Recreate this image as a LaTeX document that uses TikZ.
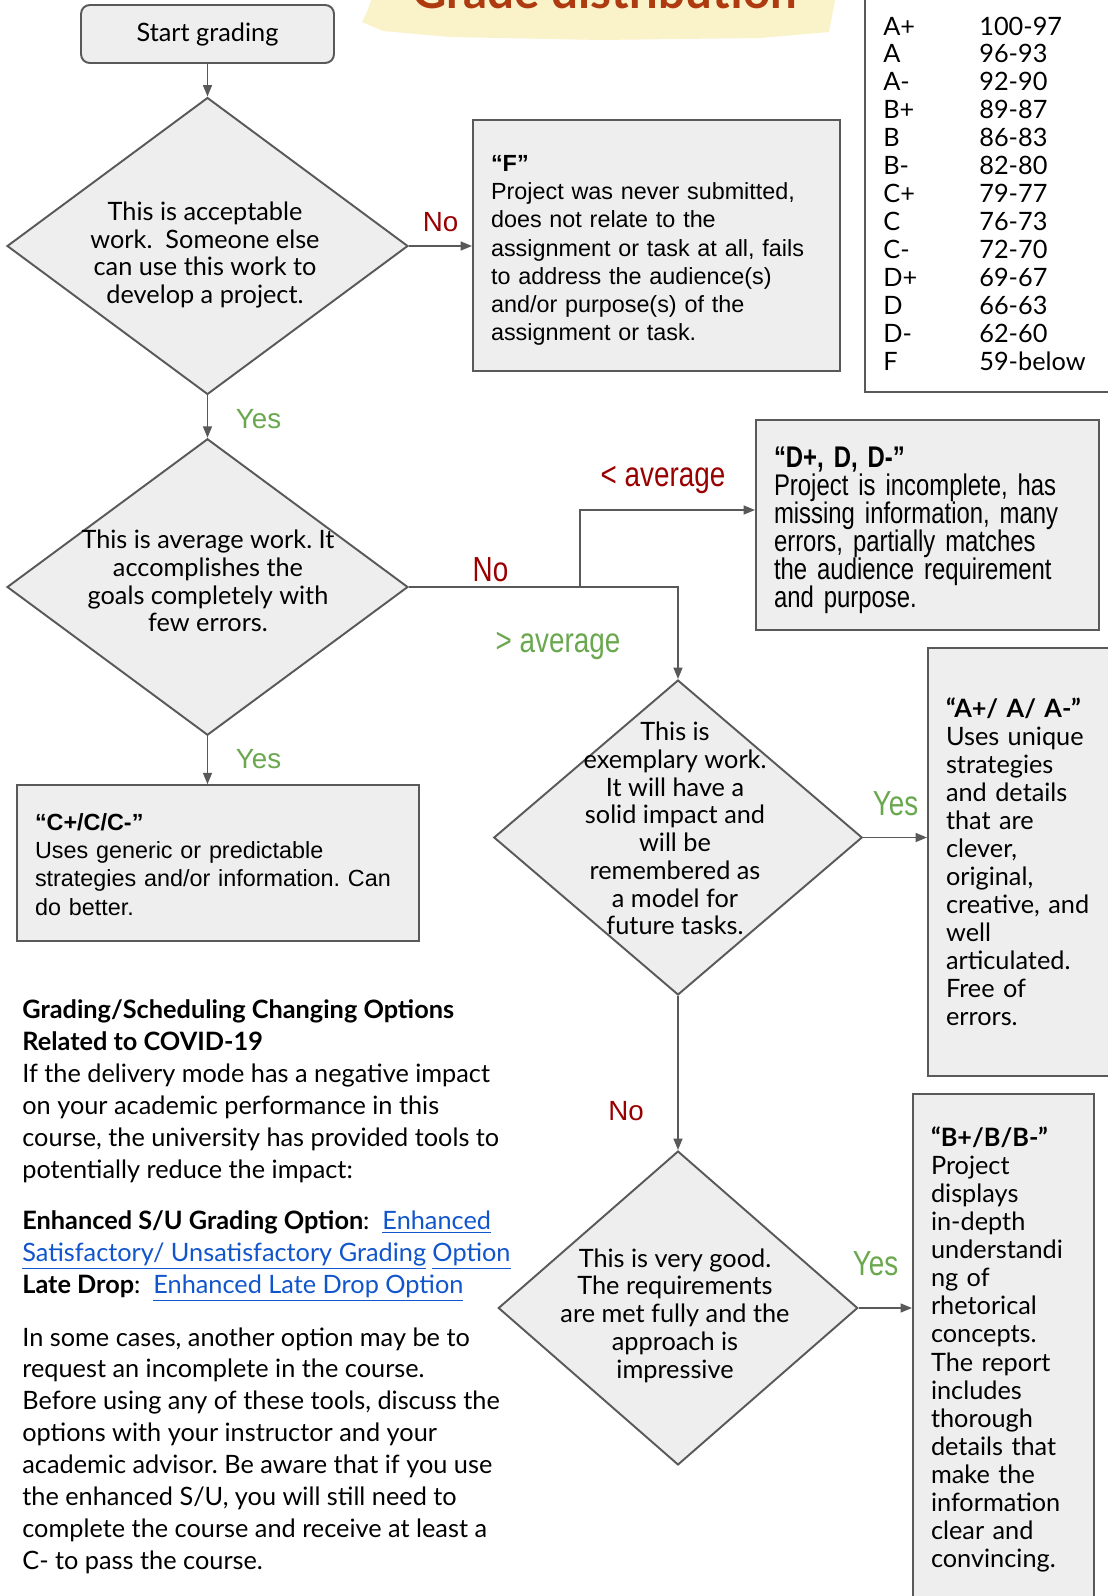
\documentclass[tikz,border=0pt]{standalone}
\usepackage{fontspec}
\setmainfont{Lato}
\newfontfamily\arialfont{Liberation Sans}
\newfontfamily\condfont[FakeStretch=0.8]{Liberation Sans}
\usetikzlibrary{shapes.geometric,arrows.meta}

\definecolor{boxfill}{HTML}{EEEEEE}
\definecolor{boxline}{HTML}{595959}
\definecolor{noRed}{HTML}{990000}
\definecolor{yesGreen}{HTML}{6AA84F}
\definecolor{linkBlue}{HTML}{1155CC}
\definecolor{titleBrown}{HTML}{AE3A10}
\definecolor{brush}{HTML}{FAF2C9}

\newcommand{\linkul}[1]{{\color{linkBlue}\underline{#1}}}
\newcommand{\headgap}[1]{\rule{0pt}{#1}}

\tikzset{
  boxed/.style={draw=boxline, fill=boxfill, line width=1.1pt},
  decision/.style={boxed, diamond, inner sep=0pt},
  startbox/.style={boxed, rectangle, rounded corners=5pt, minimum width=5.06cm, minimum height=1.16cm},
  outcome/.style={boxed, rectangle, align=left, inner xsep=0.36cm, inner ysep=0pt},
  dtext/.style={align=center, inner sep=0pt, font=\fontsize{14.4}{15.8}\selectfont},
  para/.style={align=left, inner sep=0pt, anchor=north west, font=\fontsize{14.4}{18.2}\selectfont},
  grade/.style={inner sep=0pt, anchor=base west, font=\fontsize{14.4}{15.8}\selectfont},
  flow/.style={draw=boxline, line width=1.1pt, -{Triangle[length=6.5pt,width=5pt]}},
  nolab/.style={text=noRed, font=\arialfont\fontsize{15.8}{16}\selectfont},
  yeslab/.style={text=yesGreen, font=\arialfont\fontsize{15.8}{16}\selectfont},
  condlab/.style={font=\condfont\fontsize{19.8}{20}\selectfont},
}

\begin{document}
\frenchspacing
\begin{tikzpicture}[x=0.02cm,y=-0.02cm]
\useasboundingbox (0,0) rectangle (1108,1596);

% title strip
\fill[brush] (373,-5) -- (836,-5) -- (829,32) -- (760,38) -- (600,40) -- (450,37) -- (383,31) -- (362,22) -- (367,12) -- cycle;
\node[anchor=base, text=titleBrown, inner sep=0pt] (title) at (604.5,8) {\resizebox{7.7cm}{!}{\bfseries Grade distribution}};

% grade table
\draw[boxline, line width=1.1pt] (865,-10) rectangle (1130,392);
\foreach \g/\r [count=\i from 0] in {A+/100-97, A/96-93, A-/92-90, B+/89-87, B/86-83, B-/82-80, C+/79-77, C/76-73, C-/72-70, D+/69-67, D/66-63, D-/62-60, F/59-below}{
  \node[grade] (g\i) at (883,{35+27.96*\i}) {\g};
  \node[grade] (r\i) at (979,{35+27.96*\i}) {\r};
}

\node[startbox, font=\fontsize{14.4}{15.8}\selectfont] (start) at (207.5,34) {Start grading};

\node[decision, minimum width=8.02cm, minimum height=5.94cm] (d1) at (207.5,246) {};
\node[dtext] (t1) at (205,255) {This is acceptable\\ work.\ \ Someone else\\ can use this work to\\ develop a project.};

\node[decision, minimum width=8.02cm, minimum height=5.93cm] (d2) at (207.5,587) {};
\node[dtext] (t2) at (208,581) {This is average work. It\\ accomplishes the\\ goals completely with\\ few errors.};

\node[decision, minimum width=7.37cm, minimum height=6.3cm] (d3) at (678,837.5) {};
\node[dtext] (t3) at (675,828.5) {This is\\ exemplary work.\\ It will have a\\ solid impact and\\ will be\\ remembered as\\ a model for\\ future tasks.};

\node[decision, minimum width=7.19cm, minimum height=6.28cm] (d4) at (678,1308) {};
\node[dtext] (t4) at (675,1315.5) {This is very good.\\ The requirements\\ are met fully and the\\ approach is\\ impressive};

\node[outcome, minimum width=7.34cm, minimum height=5.02cm, text width=6.62cm,
  font=\arialfont\fontsize{13.3}{16.05}\selectfont] (fbox) at (656.5,245.5)
  {\headgap{14.8pt}\textbf{“F”}\\ Project was never submitted,\\ does not relate to the\\ assignment or task at all, fails\\ to address the audience(s)\\ and/or purpose(s) of the\\ assignment or task.};

\node[outcome, minimum width=6.86cm, minimum height=4.2cm, text width=6.14cm,
  font=\condfont\fontsize{17}{15.9}\selectfont] (dbox) at (927.5,525)
  {\headgap{17.6pt}\textbf{“D+, D, D-”}\\ Project is incomplete, has\\ missing information, many\\ errors, partially matches\\ the audience requirement\\ and purpose.};

\node[outcome, minimum width=8.04cm, minimum height=3.11cm, text width=7.32cm,
  font=\arialfont\fontsize{13.3}{16}\selectfont] (cbox) at (218,863)
  {\headgap{11.4pt}\textbf{“C+/C/C-”}\\ Uses generic or predictable\\ strategies and/or information. Can\\ do better.};

\node[outcome, minimum width=4.24cm, minimum height=8.56cm, text width=3.52cm,
  font=\fontsize{14.4}{15.95}\selectfont] (abox) at (1034,862)
  {\textbf{“A+/ A/ A-”}\\ Uses unique\\ strategies\\ and details\\ that are\\ clever,\\ original,\\ creative, and\\ well\\ articulated.\\ Free of\\ errors.};

\node[outcome, minimum width=3.62cm, minimum height=10.12cm, text width=2.9cm,
  font=\fontsize{14.4}{15.95}\selectfont] (bbox) at (1003.5,1347)
  {\headgap{14pt}\textbf{“B+/B/B-”}\\ Project\\ displays\\ in-depth\\ understandi\\ ng of\\ rhetorical\\ concepts.\\ The report\\ includes\\ thorough\\ details that\\ make the\\ information\\ clear and\\ convincing.};

% connectors
\coordinate (split) at (580,587);
\draw[flow] (start) -- (d1);
\draw[flow] (d1.east) -- (d1.east -| fbox.west);
\draw[flow] (d1) -- (d2);
\draw[flow] (d2.east) -| (d3.north);
\draw[flow] (split) |- ([yshift=0.3cm]dbox.west);
\draw[flow] (d2.south) -- (d2.south |- cbox.north);
\draw[flow] (d3.east) -- (d3.east -| abox.west);
\draw[flow] (d3) -- (d4);
\draw[flow] (d4.east) -- (d4.east -| bbox.west);

\node[nolab] (no1) at (440.5,222) {No};
\node[yeslab] (yes1) at (258.5,419) {Yes};
\node[condlab, text=noRed] (no2) at (490.5,570) {No};
\node[condlab, text=noRed] (below) at (663,480) {< average};
\node[condlab, text=yesGreen] (above) at (558,646) {> average};
\node[yeslab] (yes2) at (258.5,759) {Yes};
\node[condlab, text=yesGreen] (yes3) at (895.5,804) {Yes};
\node[nolab] (no3) at (626,1111) {No};
\node[condlab, text=yesGreen] (yes4) at (875.5,1264) {Yes};

% covid notes
\node[para] (covid) at (22,999) {\textbf{Grading/Scheduling Changing Options}\\ \textbf{Related to COVID-19}\\ If the delivery mode has a negative impact\\ on your academic performance in this\\ course, the university has provided tools to\\ potentially reduce the impact:};
\node[para] (options) at (22,1210.5) {\textbf{Enhanced S/U Grading Option}:\ \ \linkul{Enhanced}\\ \linkul{Satisfactory/ Unsatisfactory Grading} \linkul{Option}\\ \textbf{Late Drop}:\ \ \linkul{Enhanced Late Drop Option}};
\node[para] (note) at (22,1327) {In some cases, another option may be to\\ request an incomplete in the course.\\ Before using any of these tools, discuss the\\ options with your instructor and your\\ academic advisor. Be aware that if you use\\ the enhanced S/U, you will still need to\\ complete the course and receive at least a\\ C- to pass the course.};
\end{tikzpicture}
\end{document}
